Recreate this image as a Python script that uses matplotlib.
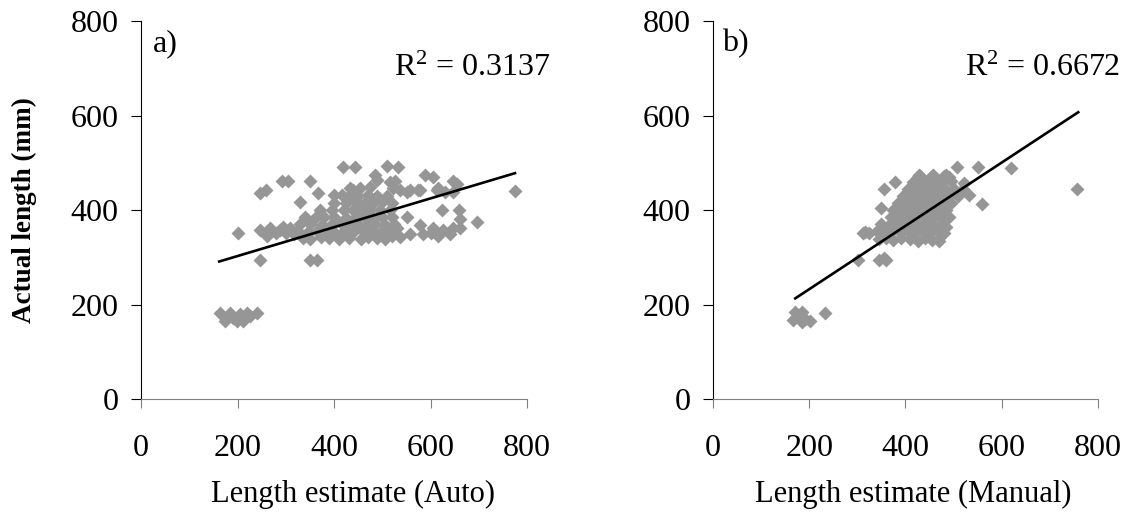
import matplotlib
matplotlib.use("Agg")
import matplotlib.pyplot as plt
import numpy as np

plt.rcParams['font.family'] = ['Liberation Serif', 'DejaVu Serif']
plt.rcParams['mathtext.fontset'] = 'custom'
plt.rcParams['mathtext.rm'] = 'Liberation Serif'
plt.rcParams['mathtext.it'] = 'Liberation Serif:italic'

# ---- panel a: auto estimate vs actual ----
auto_x = [164, 184, 205, 219, 240, 174, 198, 212, 190, 225,
          247, 350, 364, 200,
          418, 443, 509, 533, 292, 305, 350, 485, 589, 606, 647, 526,
          247, 260, 367, 399, 416, 440, 454, 523, 537, 551, 575, 616,
          647, 775, 330, 623, 658, 661, 697, 475, 488, 516, 613, 630,
          654, 557, 578, 433,
          247, 258, 267, 280, 288, 300, 309, 318, 262, 295,
          551, 578, 606, 626, 647, 537, 557, 585, 530, 600, 640, 661, 520, 615,
          335, 350, 372, 390, 410, 430, 455, 470, 490, 505,
          325, 345, 365, 385, 400, 420, 440, 460, 480, 500, 515,
          330, 350, 375, 395, 415, 435, 450, 470, 485, 505, 525,
          340, 360, 380, 400, 425, 445, 465, 480, 500, 520,
          370, 395, 420, 440, 455, 475, 495, 515,
          400, 425, 445, 465, 480, 500, 520,
          430, 450, 470, 490, 510]
auto_y = [183, 183, 180, 183, 183, 165, 165, 165, 172, 175,
          294, 294, 294, 352,
          492, 492, 493, 492, 461, 461, 461, 474, 474, 470, 461, 461,
          435, 442, 435, 432, 432, 442, 446, 446, 442, 439, 442, 446,
          439, 440, 418, 400, 401, 382, 375, 449, 463, 460, 442, 439,
          456, 442, 442, 446,
          357, 350, 362, 351, 357, 352, 362, 350, 345, 365,
          386, 368, 361, 357, 361, 343, 350, 350, 361, 352, 350, 362, 345, 345,
          340, 338, 342, 340, 338, 341, 339, 342, 340, 338,
          355, 354, 356, 355, 353, 356, 354, 355, 353, 356, 354,
          370, 371, 369, 370, 372, 369, 370, 371, 370, 369, 371,
          385, 384, 386, 385, 384, 386, 385, 384, 386, 385,
          400, 401, 399, 400, 402, 399, 400, 401,
          415, 414, 416, 415, 414, 416, 415,
          430, 429, 431, 430, 429]
auto_trend_x = [162, 775]
auto_trend_y = [291, 478]
auto_r2 = "0.3137"

# ---- panel b: manual estimate vs actual ----
man_x = [170, 184, 166, 184, 201, 232, 176, 192,
         301, 346, 360, 312, 325, 350, 356, 379,
         508, 550, 619, 559, 757, 429, 457, 485, 425, 460, 491, 522, 533,
         315, 355,
         345, 360, 375, 390, 410, 425, 440, 455, 470,
         340, 355, 372, 388, 405, 420, 435, 450, 465, 480,
         350, 365, 380, 395, 410, 425, 440, 455, 470, 485,
         370, 385, 400, 415, 430, 445, 460, 475, 490,
         375, 395, 410, 425, 440, 455, 470, 485,
         385, 400, 415, 430, 445, 460, 475, 495,
         395, 410, 425, 440, 455, 470, 490, 510,
         405, 420, 435, 450, 465, 480, 500, 520,
         415, 430, 445, 460, 475, 495,
         430, 455, 480]
man_y = [185, 185, 167, 164, 166, 183, 175, 170,
         294, 294, 294, 352, 352, 404, 444, 460,
         490, 490, 488, 413, 444, 474, 474, 474, 470, 470, 470, 457, 432,
         354, 298,
         338, 340, 336, 341, 339, 335, 340, 337, 334,
         355, 354, 356, 353, 355, 354, 356, 353, 355, 352,
         370, 369, 371, 370, 368, 371, 369, 370, 366, 365,
         385, 384, 386, 385, 384, 386, 385, 384, 386,
         400, 401, 399, 400, 402, 399, 400, 401,
         415, 414, 416, 415, 414, 416, 415, 414,
         430, 429, 431, 430, 429, 431, 430, 429,
         445, 444, 446, 445, 444, 446, 445, 444,
         460, 459, 461, 460, 459, 461,
         472, 471, 473]
man_trend_x = [171, 759]
man_trend_y = [213, 607]
man_r2 = "0.6672"

ticks = [0, 200, 400, 600, 800]
point_color = '#969696'
axis_gray = '#808080'
fs = 23

fig = plt.figure(figsize=(11.31, 5.15), dpi=100)
ax_a = fig.add_axes([0.1247, 0.2252, 0.3413, 0.734])
ax_b = fig.add_axes([0.6304, 0.2252, 0.3404, 0.734])

panels = [
    (ax_a, auto_x, auto_y, auto_trend_x, auto_trend_y, auto_r2, 'a)', 'Length estimate (Auto)', 0.549),
    (ax_b, man_x, man_y, man_trend_x, man_trend_y, man_r2, 'b)', 'Length estimate (Manual)', 0.521),
]

for ax, xs, ys, tx, ty, r2, tag, xlab, lab_x in panels:
    ax.plot(xs, ys, 'D', ms=7.5, color=point_color, mec='none', zorder=2)
    ax.plot(tx, ty, color='black', lw=1.9, zorder=3)
    ax.set_xlim(0, 800)
    ax.set_ylim(0, 800)
    ax.set_xticks(ticks)
    ax.set_yticks(ticks)
    ax.spines['top'].set_visible(False)
    ax.spines['right'].set_visible(False)
    ax.spines['left'].set_color('black')
    ax.spines['bottom'].set_color(axis_gray)
    ax.tick_params(axis='x', direction='out', length=6.5, color=axis_gray, pad=19, labelsize=fs)
    ax.tick_params(axis='y', direction='out', length=7, color='black', pad=9, labelsize=fs)
    ax.get_xticklines()[0].set_color('black')
    ax.set_xlabel(xlab, fontsize=22, labelpad=12, x=lab_x)
    ax.text(19 if tag == 'b)' else 25, 752, tag, fontsize=fs, ha='left', va='center')
    ax.text(524, 700, r'R$^2$ = ' + r2, fontsize=fs, ha='left', va='center')

ax_a.set_ylabel('Actual length (mm)', fontsize=19.5, fontweight='bold', labelpad=24)

fig.savefig('out.png', dpi=100)
